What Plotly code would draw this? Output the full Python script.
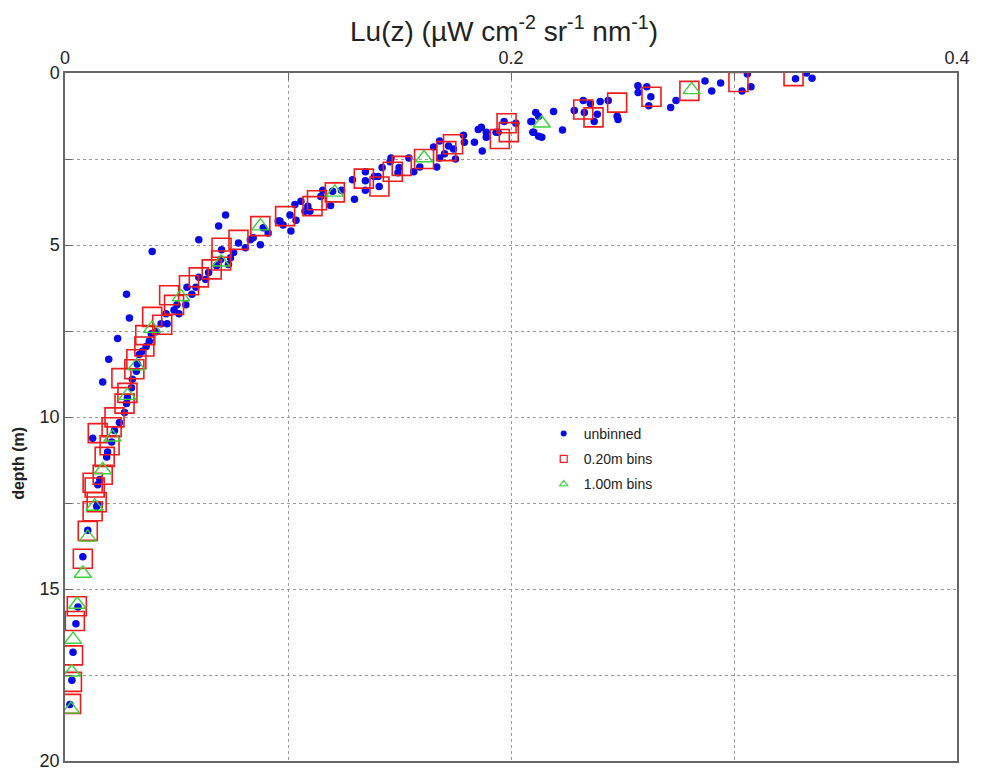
import plotly.graph_objects as go

# Unbinned profile: upwelling radiance Lu(z) and depth (m)
unbinned_lu = [
    0.306, 0.3076, 0.3036, 0.3276, 0.3324, 0.335, 0.294, 0.287, 0.290, 0.274,
    0.2716, 0.2618, 0.2627, 0.2569, 0.2609, 0.257, 0.248, 0.2476, 0.2436, 0.240,
    0.2356, 0.2324, 0.2284, 0.2329, 0.2373, 0.2387, 0.2231, 0.2191, 0.2138, 0.2102,
    0.2093, 0.2111, 0.2124, 0.2022, 0.1969, 0.1942, 0.2089, 0.2098, 0.2124, 0.1933,
    0.1889, 0.1889, 0.1871, 0.1836, 0.1853, 0.1867, 0.1791, 0.1787, 0.1751, 0.1742,
    0.172, 0.1702, 0.168, 0.168, 0.1653, 0.1667, 0.1591, 0.1564, 0.1542, 0.1493,
    0.1498, 0.1462, 0.1458, 0.1422, 0.1404, 0.1409, 0.1387, 0.1347, 0.1347, 0.1289,
    0.1347, 0.1298, 0.124, 0.120, 0.1191, 0.1156, 0.1147, 0.1089, 0.1076, 0.1031,
    0.1058, 0.1009, 0.1036, 0.0956, 0.0978, 0.1013, 0.1098, 0.0964, 0.0889, 0.0911,
    0.0876, 0.0844, 0.0831, 0.0809, 0.0778, 0.0756, 0.0742, 0.0702, 0.0698, 0.0733,
    0.068, 0.0644, 0.0631, 0.060, 0.0587, 0.0547, 0.0569, 0.0542, 0.0502, 0.0489,
    0.0511, 0.0453, 0.0458, 0.0431, 0.0409, 0.0387, 0.0378, 0.0364, 0.0347, 0.0333,
    0.0324, 0.032, 0.0302, 0.0298, 0.028, 0.0276, 0.0267, 0.0244, 0.0222, 0.0209,
    0.0191, 0.0187, 0.0156, 0.0147, 0.0142, 0.0102, 0.0147, 0.008, 0.0058, 0.0049,
    0.0036, 0.0031, 0.0022,
    # scattered low readings
    0.072, 0.0689, 0.060, 0.0391, 0.0276, 0.0289, 0.0236, 0.0196, 0.0169, 0.0124,
]
unbinned_depth = [
    0.03, 0.40, 0.52, 0.17, 0.00, 0.15, 0.29, 0.23, 0.52, 0.80,
    1.00, 0.95, 0.69, 0.37, 0.40, 0.57, 1.35, 1.26, 0.80, 0.83,
    0.89, 0.80, 1.09, 1.15, 1.41, 1.20, 1.66, 1.12, 1.87, 1.72,
    1.41, 1.15, 1.26, 1.46, 1.41, 1.72, 1.41, 1.72, 1.84, 1.72,
    1.72, 1.87, 2.27, 2.01, 1.64, 1.58, 2.01, 1.81, 2.50, 2.21,
    2.12, 2.35, 2.47, 1.98, 2.15, 2.73, 2.73, 2.87, 2.47, 2.90,
    2.75, 2.47, 2.58, 2.75, 3.01, 3.30, 3.01, 2.87, 3.13, 3.10,
    3.41, 3.67, 3.41, 3.44, 3.85, 3.41, 3.59, 3.87, 4.02, 3.82,
    3.73, 4.13, 4.28, 4.30, 4.42, 4.59, 4.02, 4.30, 4.50, 4.65,
    4.99, 4.79, 4.85, 5.08, 4.94, 5.22, 5.37, 5.14, 5.42, 5.57,
    5.60, 5.80, 6.00, 5.94, 6.23, 6.23, 6.43, 6.74, 6.74, 6.89,
    7.00, 7.00, 7.29, 7.29, 7.52, 7.58, 7.80, 7.95, 8.09, 8.18,
    8.46, 8.67, 8.90, 9.15, 9.44, 9.61, 9.87, 10.16, 10.39, 10.73,
    11.02, 11.16, 11.82, 11.97, 12.60, 13.29, 12.54, 14.06, 15.52, 16.01,
    16.84, 17.65, 18.36,
    4.13, 4.45, 4.85, 5.19, 6.43, 7.12, 7.72, 8.32, 8.98, 10.62,
]

# 0.20 m depth bins
bin020_lu = [
    0.3267, 0.302, 0.280, 0.263, 0.2476, 0.2324, 0.237, 0.198, 0.199, 0.195,
    0.174, 0.171, 0.161, 0.151, 0.147, 0.134, 0.141, 0.121, 0.113, 0.111,
    0.0987, 0.0876, 0.0778, 0.0702, 0.070, 0.0658, 0.060, 0.0556, 0.0467, 0.0489,
    0.0391, 0.0436, 0.036, 0.0356, 0.032, 0.0311, 0.0253, 0.028, 0.0267, 0.0222,
    0.0209, 0.0147, 0.020, 0.0178, 0.0169, 0.0124, 0.0133, 0.0142, 0.0124, 0.0102,
    0.008, 0.0053, 0.0044, 0.0036, 0.0031, 0.0027,
]
bin020_depth = [
    0.09, 0.26, 0.52, 0.69, 0.86, 1.06, 1.29, 1.46, 1.72, 1.92,
    2.07, 2.27, 2.50, 2.70, 2.87, 3.07, 3.30, 3.47, 3.70, 3.87,
    4.16, 4.45, 4.85, 5.08, 5.45, 5.71, 5.94, 6.17, 6.46, 6.74,
    7.09, 7.32, 7.62, 7.95, 8.32, 8.61, 8.87, 9.30, 9.61, 10.01,
    10.30, 10.47, 10.82, 11.16, 11.68, 11.91, 12.05, 12.48, 12.74, 13.31,
    14.12, 15.50, 15.93, 16.93, 17.70, 18.34,
]

# 1.00 m depth bins
bin100_lu = [
    0.281, 0.2138, 0.161, 0.121, 0.0876, 0.070, 0.052, 0.039, 0.032, 0.028,
    0.0213, 0.0169, 0.0133, 0.0102, 0.008, 0.0055, 0.0036, 0.0031, 0.0027,
]
bin100_depth = [
    0.49, 1.46, 2.47, 3.47, 4.45, 5.50, 6.51, 7.43, 8.52, 9.38,
    10.59, 11.54, 12.60, 13.50, 14.55, 15.45, 16.47, 17.42, 18.50,
]

x_tickvals = [0, 0.1, 0.2, 0.3, 0.4]
x_ticktext = ["0", "", "0.2", "", "0.4"]
y_tickvals = [0, 2.5, 5, 7.5, 10, 12.5, 15, 17.5, 20]
y_ticktext = ["0", "", "5", "", "10", "", "15", "", "20"]

BLUE = "#0a0ae6"
RED = "#ee1c1c"
GREEN = "#3ad23a"
FONT = "Liberation Sans, Arial, sans-serif"

fig = go.Figure()

fig.add_trace(go.Scatter(
    x=unbinned_lu, y=unbinned_depth, mode="markers", showlegend=False,
    marker=dict(symbol="circle", size=7.5, color=BLUE, line=dict(width=0)),
))
fig.add_trace(go.Scatter(
    x=bin020_lu, y=bin020_depth, mode="markers", showlegend=False,
    marker=dict(symbol="square-open", size=19, color=RED, line=dict(width=1.6)),
))
fig.add_trace(go.Scatter(
    x=bin100_lu, y=bin100_depth, mode="markers", showlegend=False,
    marker=dict(symbol="triangle-up-open", size=15, color=GREEN, line=dict(width=1.4)),
))

# Legend entries with small symbols, one group each for extra row spacing
fig.add_trace(go.Scatter(
    x=[None], y=[None], mode="markers", name="unbinned", legendgroup="a",
    marker=dict(symbol="circle", size=6, color=BLUE),
))
fig.add_trace(go.Scatter(
    x=[None], y=[None], mode="markers", name="0.20m bins", legendgroup="b",
    marker=dict(symbol="square-open", size=7, color=RED, line=dict(width=1.2)),
))
fig.add_trace(go.Scatter(
    x=[None], y=[None], mode="markers", name="1.00m bins", legendgroup="c",
    marker=dict(symbol="triangle-up-open", size=7, color=GREEN, line=dict(width=1.2)),
))

axis_common = dict(
    showline=True, linecolor="#666666", linewidth=1.5, mirror=True,
    showgrid=True, gridcolor="#9a9a9a", gridwidth=1, griddash="dot",
    ticks="inside", ticklen=7, tickcolor="#666666", tickwidth=1.2,
    zeroline=False,
    tickfont=dict(family=FONT, size=18, color="#222222"),
)

fig.update_layout(
    width=981, height=782,
    margin=dict(l=65, r=16, t=73, b=11),
    paper_bgcolor="white", plot_bgcolor="white",
    font=dict(family=FONT, color="#222222"),
    xaxis=dict(range=[0, 0.4], side="top", tickvals=x_tickvals,
               ticktext=x_ticktext, **axis_common),
    yaxis=dict(range=[20, 0], tickvals=y_tickvals, ticktext=y_ticktext,
               **axis_common),
    legend=dict(
        x=(548 - 65) / 900, y=1 - (423 - 73) / 698,
        xanchor="left", yanchor="top",
        bgcolor="rgba(255,255,255,0)", borderwidth=0,
        font=dict(family=FONT, size=14, color="#222222"),
        tracegroupgap=4, itemsizing="trace",
    ),
    annotations=[
        dict(text="Lu(z) (µW cm<sup>-2</sup> sr<sup>-1</sup> nm<sup>-1</sup>)",
             x=(508 - 65) / 900, xref="paper", y=1, yref="paper",
             showarrow=False,
             font=dict(family=FONT, size=28, color="#222222"),
             xanchor="center", yanchor="middle", yshift=44),
        dict(text="<b>depth (m)</b>", textangle=-90, x=0, xref="paper",
             y=1 - (469 - 73) / 698, yref="paper", showarrow=False,
             xanchor="right", xshift=-36,
             font=dict(family=FONT, size=16, color="#222222")),
    ],
)

fig.write_html("out.html")
